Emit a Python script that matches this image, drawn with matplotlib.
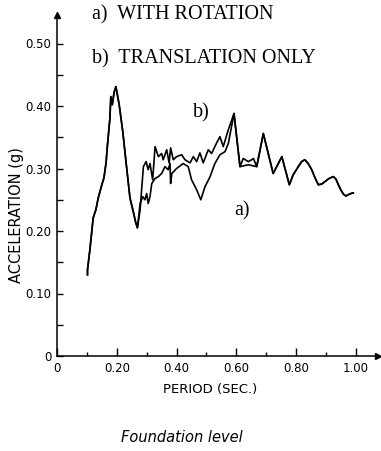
import matplotlib
matplotlib.use("Agg")
import matplotlib.pyplot as plt
import numpy as np

# response spectrum (period in s, acceleration in g)
rise_period = [0.102, 0.102, 0.110, 0.121, 0.130, 0.138, 0.150, 0.157, 0.164, 0.168,
               0.177, 0.180, 0.185, 0.191, 0.197, 0.208, 0.220, 0.233, 0.244, 0.255,
               0.263, 0.269]
rise_accel = [0.130, 0.138, 0.170, 0.221, 0.234, 0.253, 0.274, 0.285, 0.309, 0.333,
              0.381, 0.415, 0.402, 0.422, 0.431, 0.402, 0.359, 0.301, 0.253, 0.231,
              0.214, 0.205]

# a) with rotation
mid_a_period = [0.278, 0.287, 0.294, 0.300, 0.305, 0.311, 0.317, 0.328, 0.339, 0.350,
                0.361, 0.372, 0.378, 0.380, 0.384, 0.400, 0.422, 0.439, 0.450, 0.467,
                0.481, 0.495, 0.512, 0.528, 0.545, 0.562, 0.573]
mid_a_accel = [0.244, 0.255, 0.250, 0.260, 0.244, 0.255, 0.276, 0.284, 0.287, 0.292,
               0.303, 0.298, 0.308, 0.276, 0.292, 0.300, 0.308, 0.303, 0.282, 0.266,
               0.250, 0.271, 0.287, 0.308, 0.322, 0.327, 0.340]

# b) translation only
mid_b_period = [0.278, 0.283, 0.289, 0.298, 0.305, 0.311, 0.320, 0.328, 0.339, 0.350,
                0.355, 0.367, 0.375, 0.380, 0.389, 0.400, 0.417, 0.428, 0.445, 0.456,
                0.467, 0.478, 0.489, 0.506, 0.517, 0.534, 0.545, 0.556, 0.573]
mid_b_accel = [0.234, 0.266, 0.303, 0.311, 0.298, 0.308, 0.282, 0.335, 0.319, 0.324,
               0.314, 0.330, 0.309, 0.333, 0.314, 0.319, 0.322, 0.314, 0.309, 0.319,
               0.311, 0.325, 0.309, 0.330, 0.324, 0.341, 0.351, 0.335, 0.362]

peak_period = [0.592, 0.612]
peak_accel = [0.388, 0.303]

loop_a_period = [0.640, 0.668]
loop_a_accel = [0.306, 0.303]
loop_b_period = [0.623, 0.640, 0.651, 0.657, 0.668]
loop_b_accel = [0.316, 0.311, 0.314, 0.316, 0.303]

tail_period = [0.690, 0.723, 0.752, 0.777, 0.790, 0.807, 0.818, 0.829, 0.840, 0.852,
               0.863, 0.874, 0.885, 0.896, 0.910, 0.924, 0.933, 0.941, 0.950, 0.958,
               0.966, 0.974, 0.983, 0.991]
tail_accel = [0.356, 0.292, 0.319, 0.274, 0.290, 0.303, 0.311, 0.314, 0.308, 0.298,
              0.285, 0.274, 0.275, 0.279, 0.284, 0.287, 0.283, 0.274, 0.265, 0.259,
              0.256, 0.258, 0.260, 0.261]

period_a = rise_period + mid_a_period + peak_period + loop_a_period + tail_period
accel_a = rise_accel + mid_a_accel + peak_accel + loop_a_accel + tail_accel
period_b = rise_period + mid_b_period + peak_period + loop_b_period + tail_period
accel_b = rise_accel + mid_b_accel + peak_accel + loop_b_accel + tail_accel

W, H = 381, 451
fig = plt.figure(figsize=(W / 100, H / 100), dpi=100)
ax = fig.add_axes([57 / W, 1 - 356 / H, (378 - 57) / W, (356 - 15) / H])

ax.plot(period_a, accel_a, color="black", linewidth=1.2)
ax.plot(period_b, accel_b, color="black", linewidth=1.2)

ax.set_xlim(0, 1.0736)
ax.set_ylim(0, 0.5456)
for s in ["top", "right"]:
    ax.spines[s].set_visible(False)
for s in ["left", "bottom"]:
    ax.spines[s].set_linewidth(1.1)

ax.set_xticks([0, 0.2, 0.4, 0.6, 0.8, 1.0])
ax.set_xticklabels(["0", "0.20", "0.40", "0.60", "0.80", "1.00"])
ax.set_xticks([0.1, 0.3, 0.5, 0.7, 0.9], minor=True)
ax.set_yticks([0, 0.1, 0.2, 0.3, 0.4, 0.5])
ax.set_yticklabels(["0", "0.10", "0.20", "0.30", "0.40", "0.50"])
ax.set_yticks([0.05, 0.15, 0.25, 0.35, 0.45], minor=True)
ax.tick_params(which="both", direction="in", width=1, labelsize=8.5, pad=4)
ax.tick_params(axis="x", which="major", length=6)
ax.tick_params(axis="x", which="minor", length=3)
ax.tick_params(axis="y", which="both", length=4)

# arrow heads on the axes
ax.plot(1, 0, marker=">", color="black", markersize=4, transform=ax.transAxes, clip_on=False)
ax.plot(0, 1, marker="^", color="black", markersize=4, transform=ax.transAxes, clip_on=False)

fig.text(210 / W, 1 - 389 / H, "PERIOD (SEC.)", ha="center", va="center", fontsize=9.5)
fig.text(17 / W, 1 - 215 / H, "ACCELERATION (g)", ha="center", va="center",
         rotation=90, fontsize=10.5)

serif = "Liberation Serif"
fig.text(92 / W, 1 - 15 / H, "a)  WITH ROTATION", ha="left", va="center",
         fontsize=14.5, family=serif)
fig.text(92 / W, 1 - 59 / H, "b)  TRANSLATION ONLY", ha="left", va="center",
         fontsize=14.5, family=serif)
fig.text(201 / W, 1 - 113 / H, "b)", ha="center", va="center", fontsize=14.5, family=serif)
fig.text(242 / W, 1 - 211 / H, "a)", ha="center", va="center", fontsize=14.5, family=serif)

fig.text(182 / W, 1 - 437 / H, "Foundation level", ha="center", va="center",
         fontsize=10.5, style="italic")

fig.savefig("out.png", dpi=100)
